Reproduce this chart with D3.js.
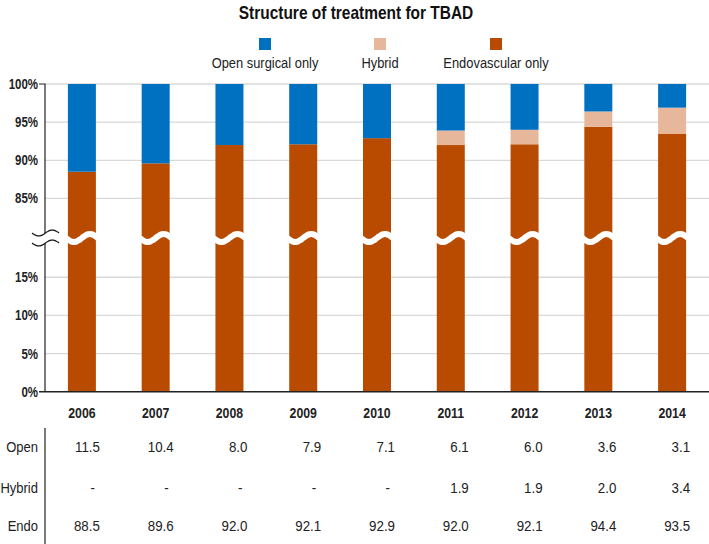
<!DOCTYPE html>
<html>
<head>
<meta charset="utf-8">
<script src="https://cdn.jsdelivr.net/npm/d3@7"></script>
<style>
  html, body { margin: 0; padding: 0; background: #fff; }
  svg { display: block; }
  text { font-family: 'Liberation Sans Narrow', 'Arial Narrow', 'Liberation Sans', Arial, sans-serif; }
</style>
</head>
<body>
<script>
// ---- data ----
const years = ["2006","2007","2008","2009","2010","2011","2012","2013","2014"];
const openVals   = [11.5, 10.4, 8.0, 7.9, 7.1, 6.1, 6.0, 3.6, 3.1];
const hybridVals = [null, null, null, null, null, 1.9, 1.9, 2.0, 3.4];
const endoVals   = [88.5, 89.6, 92.0, 92.1, 92.9, 92.0, 92.1, 94.4, 93.5];
const upperTicks = [85, 90, 95, 100];
const lowerTicks = [0, 5, 10, 15];
const seriesNames = ["Open surgical only", "Hybrid", "Endovascular only"];
const rowLabels = ["Open", "Hybrid", "Endo"];

const colors = { open: "#0070C0", hybrid: "#E7B79B", endo: "#B84B00" };

const W = 709, H = 544;
const svg = d3.select("body").append("svg").attr("width", W).attr("height", H);

// condensed text helper (narrow font emulation)
function txt(g, x, y, s, o) {
  return g.append("text")
    .attr("transform", `translate(${x},${y}) scale(${o.sx || 0.85},1)`)
    .attr("text-anchor", o.anchor || "start")
    .attr("font-size", o.size || 14)
    .attr("font-weight", o.weight || "normal")
    .attr("fill", o.fill || "#222")
    .text(s);
}

const axisX = 45;
const x = d3.scalePoint().domain(years).range([axisX, W]).padding(0.5);
const barW = 28;

// broken y-axis: two linear scales
const yU = d3.scaleLinear().domain([80, 100]).range([236.6, 84]);
const yL = d3.scaleLinear().domain([0, 20]).range([391.7, 239.1]);
const y = v => v >= 50 ? yU(v) : yL(v);
const breakY = 238;

// title
txt(svg, 356, 19, "Structure of treatment for TBAD", { size: 18, weight: "bold", anchor: "middle", sx: 0.86, fill: "#111" });

// legend
const legX = [265, 380, 496];
const legC = [colors.open, colors.hybrid, colors.endo];
seriesNames.forEach((n, i) => {
  svg.append("rect").attr("x", legX[i] - 6).attr("y", 38).attr("width", 12).attr("height", 12).attr("fill", legC[i]);
  txt(svg, legX[i], 68, n, { size: 15, anchor: "middle", sx: 0.86 });
});

// gridlines
const grid = svg.append("g");
upperTicks.forEach(t => grid.append("line").attr("x1", axisX).attr("x2", W).attr("y1", yU(t)).attr("y2", yU(t))
  .attr("stroke", "#d9d9d9").attr("stroke-width", 1.3));
lowerTicks.filter(t => t > 0).forEach(t => grid.append("line").attr("x1", axisX).attr("x2", W).attr("y1", yL(t)).attr("y2", yL(t))
  .attr("stroke", "#d9d9d9").attr("stroke-width", 1.3));

// bars
const bars = svg.append("g");
years.forEach((yr, i) => {
  const cx = x(yr);
  const e = endoVals[i], h = hybridVals[i] || 0, o = openVals[i];
  bars.append("rect").attr("x", cx - barW/2).attr("width", barW)
    .attr("y", y(e)).attr("height", y(0) - y(e)).attr("fill", colors.endo);
  if (h > 0) bars.append("rect").attr("x", cx - barW/2).attr("width", barW)
    .attr("y", y(e + h)).attr("height", y(e) - y(e + h)).attr("fill", colors.hybrid);
  bars.append("rect").attr("x", cx - barW/2).attr("width", barW)
    .attr("y", y(100)).attr("height", y(100 - o) - y(100)).attr("fill", colors.open);
  // white wave break
  const pts = d3.range(0, 1.0001, 0.05).map(t => [cx - barW/2 - 2 + t * (barW + 4), breakY + 4 * Math.sin(2 * Math.PI * t)]);
  bars.append("path").attr("d", d3.line().curve(d3.curveBasis)(pts))
    .attr("fill", "none").attr("stroke", "#fff").attr("stroke-width", 6);
});

// y axis with break
const ax = svg.append("g").attr("stroke", "#222").attr("fill", "none").attr("stroke-width", 1.2);
ax.append("path").attr("d", `M${axisX-6},${yU(100)}H${axisX}V${breakY-5}`);
ax.append("path").attr("d", `M${axisX},${breakY+5}V${yL(0)}`);
[breakY - 5, breakY + 5].forEach(by => {
  const pts = d3.range(0, 1.0001, 0.05).map(t => [32 + t * 27, by + 3 * Math.sin(2 * Math.PI * t)]);
  ax.append("path").attr("d", d3.line().curve(d3.curveBasis)(pts)).attr("stroke", "#111").attr("stroke-width", 1.2);
});
// x axis baseline
svg.append("line").attr("x1", axisX - 6).attr("x2", W).attr("y1", yL(0)).attr("y2", yL(0))
  .attr("stroke", "#222").attr("stroke-width", 1.4);

// y tick labels
const ylab = svg.append("g");
upperTicks.forEach(t => txt(ylab, 38, yU(t) + 5, t + "%", { size: 14, weight: "bold", anchor: "end", sx: 0.82 }));
lowerTicks.forEach(t => txt(ylab, 38, yL(t) + 5, t + "%", { size: 14, weight: "bold", anchor: "end", sx: 0.82 }));

// x labels
const xlab = svg.append("g");
years.forEach(d => txt(xlab, x(d), 418, d, { size: 15, weight: "bold", anchor: "middle", sx: 0.82 }));

// table
svg.append("line").attr("x1", axisX).attr("x2", axisX).attr("y1", 428).attr("y2", H)
  .attr("stroke", "#333").attr("stroke-width", 1.3);
const rowY = [452, 493, 531];
const rowsData = [openVals, hybridVals, endoVals];
const tbl = svg.append("g");
rowLabels.forEach((r, ri) => {
  txt(tbl, 38, rowY[ri], r, { size: 15.5, anchor: "end", sx: 0.84 });
  rowsData[ri].forEach((v, i) => {
    const isDash = v === null;
    txt(tbl, x(years[i]) + (isDash ? 13 : 18), rowY[ri], isDash ? "-" : v.toFixed(1),
      { size: 15.5, anchor: "end", sx: 0.86 });
  });
});
</script>
</body>
</html>
